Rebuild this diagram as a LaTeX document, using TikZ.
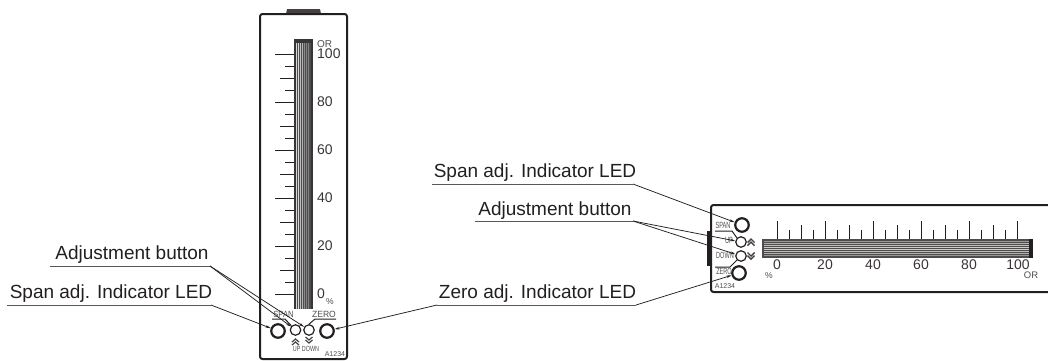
\documentclass[tikz,border=0pt]{standalone}
\usepackage{fontspec}
\usepackage{graphicx}
\setmainfont{Liberation Sans}
\usetikzlibrary{arrows.meta}
\definecolor{ink}{HTML}{231F20}
\newcommand{\cond}[2][.7]{\scalebox{#1}[1]{#2}}
\tikzset{
  frame/.style={draw=ink,line width=2pt,rounded corners=2.5pt},
  led/.style={circle,draw=ink,line width=2.2pt,minimum size=13.5pt,inner sep=0pt},
  btn/.style={circle,draw=ink,line width=1.2pt,minimum size=10.5pt,inner sep=0pt},
  callout/.style={font=\fontsize{19}{19}\selectfont,text=ink,anchor=base,inner sep=0pt},
  scalenum/.style={font=\fontsize{14}{14}\selectfont,text=ink!90,inner sep=0pt},
  tiny/.style={font=\fontsize{7.5}{7.5}\selectfont,text=ink!80,inner sep=0pt},
  panel/.style={font=\fontsize{9}{9}\selectfont,text=ink!80,inner sep=0pt},
  leader/.style={draw=ink,line width=.75pt,-{Stealth[length=5pt,width=2.6pt]}},
  rule/.style={draw=ink!75,line width=1pt},
  wire/.style={draw=ink,line width=1pt},
  tick/.style={draw=ink,line width=1pt},
  chev/.style={draw=ink!85,line width=1.2pt}
}
\begin{document}
\begin{tikzpicture}[x=1pt,y=-1pt]
\useasboundingbox (0,0) rectangle (1048,360);
% ---- vertical unit
\fill[ink!85] (286,14) -- (287,9) -- (320,9) -- (321,14) -- cycle;
\draw[frame] (260,359) -- (260,14) -- (347,14) -- (347,359) -- cycle;
\fill[ink!80] (294,39) rectangle (313,309);
\fill[ink!90] (294,39) rectangle (313,43);
\fill[ink!90] (294,39) rectangle (296,309);
\fill[ink!90] (311,39) rectangle (313,309);
\foreach \x/\c in {296/15,298/15,300/25,302/30,304/45,306/50,308/50}
  \fill[black!\c!white] (\x,43) rectangle (\x+1.1,309);
\foreach \yy/\l in {54/275,66/285,78/280,90/285,102/275,114/285,126/280,138/285,150/275,162/285,174/280,186/285,198/275,210/285,222/280,234/285,246/275,258/285,270/280,282/285,294/275}
  \draw[tick] (\l,\yy+.5) -- (294,\yy+.5);
\node[tiny,font=\fontsize{10}{10}\selectfont,anchor=west] (vor) at (317,44) {OR};
\foreach \yy/\n in {54/100,102/80,150/60,198/40,246/20,294/0}
  \node[scalenum,anchor=west] (v\n) at (317,\yy) {\n};
\node[tiny,font=\fontsize{8.5}{8.5}\selectfont] (vpct) at (330,302) {\%};
\node[panel] (vspan) at (283.5,314) {\cond[.85]{SPAN}};
\node[panel] (vzero) at (324,314) {\cond[.95]{ZERO}};
\node[led] (vledS) at (278,331) {};
\node[btn] (vup) at (295.5,330) {};
\node[btn] (vdown) at (309,330) {};
\node[led] (vledZ) at (327,331) {};
\foreach \cx/\a in {295.5/339,295.5/342}
  \draw[chev] (\cx-3.5,\a+3) -- (\cx,\a) -- (\cx+3.5,\a+3);
\foreach \cx/\a in {309/337,309/340}
  \draw[chev] (\cx-3.5,\a) -- (\cx,\a+3) -- (\cx+3.5,\a);
\node[tiny] (vupdown) at (306,349) {\cond[.72]{UP DOWN}};
\node[tiny,font=\fontsize{7}{7}\selectfont] (vid) at (335,354) {A1234};
\coordinate (vs1) at (272,319); \coordinate (vs2) at (285,319);
\coordinate (vz1) at (336,319); \coordinate (vz2) at (315,319);
\draw[wire] (vs1) -- (vs2) -- (vup.north west);
\draw[wire] (vz1) -- (vz2) -- (vdown.north);
% ---- horizontal unit
\fill[ink] (707,231) rectangle (712,266);
\draw[frame] (1049,205) -- (711,205) -- (711,292) -- (1049,292);
\fill[ink!80] (762,239) rectangle (1033,258);
\fill[ink] (1029,239) rectangle (1033,258);
\foreach \yy/\c in {241/40,243/30,245/25,247/20,249/20,251/25,253/30,255/40}
  \fill[black!\c!white] (764,\yy) rectangle (1029,\yy+1);
\foreach \x/\t in {777/221,789/230,801/225,813/230,825/221,837/230,849/225,861/230,873/221,885/230,897/225,909/230,921/221,933/230,945/225,957/230,969/221,981/230,993/225,1005/230,1017/221}
  \draw[tick] (\x+.5,\t) -- (\x+.5,239);
\foreach \x/\n in {777/0,825/20,873/40,921/60,969/80,1018/100}
  \node[scalenum] (h\n) at (\x,264.5) {\n};
\node[tiny,font=\fontsize{8.5}{8.5}\selectfont] (hpct) at (769,276) {\%};
\node[tiny,font=\fontsize{9.5}{9.5}\selectfont] (hor) at (1031,275.5) {OR};
\node[panel] (hspan) at (723,225) {\cond[.62]{SPAN}};
\node[panel] (hup) at (729,240.5) {\cond[.62]{UP}};
\node[panel] (hdown) at (725,255) {\cond[.62]{DOWN}};
\node[panel] (hzero) at (724,271) {\cond[.62]{ZERO}};
\node[tiny,font=\fontsize{7}{7}\selectfont] (hid) at (725,286) {A1234};
\node[led] (hledS) at (742,225) {};
\node[btn] (hbup) at (741,242) {};
\node[btn] (hbdown) at (741,256) {};
\node[led] (hledZ) at (739,273) {};
\foreach \a in {242,245.2}
  \draw[chev,line width=1.4pt] (747.5,\a+.5) -- (751,\a-3) -- (754.5,\a+.5);
\foreach \a in {252.5,255.7}
  \draw[chev,line width=1.4pt] (747.5,\a) -- (751,\a+3.5) -- (754.5,\a);
\coordinate (hw1) at (715,231); \coordinate (hw2) at (732,231);
\coordinate (hw3) at (715,267); \coordinate (hw4) at (730,267);
\draw[wire] (hw1) -- (hw2) -- (hbup.north west);
\draw[wire] (hw3) -- (hw4) -- (hbdown.south west);
% ---- callouts, left
\node[callout] (adjL) at (132,259) {Adjustment button};
\node[callout] (spanL) at (111,298) {Span adj. Indicator LED};
\coordinate (adjLa) at (50,266); \coordinate (adjLb) at (210,266);
\coordinate (spanLa) at (7,305); \coordinate (spanLb) at (211,305);
\draw[rule] (adjLa) -- (adjLb);
\draw[rule] (spanLa) -- (spanLb);
\draw[leader] (adjLb) -- (vup);
\draw[leader] (adjLb) -- (vdown);
\draw[leader] (spanLb) -- (vledS);
% ---- callouts, centre
\node[callout] (zeroC) at (537.5,298) {Zero adj. Indicator LED};
\coordinate (zeroCa) at (437,305); \coordinate (zeroCb) at (636,305);
\draw[rule] (zeroCa) -- (zeroCb);
\draw[leader] (zeroCa) -- (vledZ);
\draw[leader] (zeroCb) -- (hledZ);
% ---- callouts, right
\node[callout] (spanR) at (535,177) {Span adj. Indicator LED};
\node[callout] (adjR) at (555,215) {Adjustment button};
\coordinate (spanRa) at (432,184); \coordinate (spanRb) at (633,184);
\coordinate (adjRa) at (475,221); \coordinate (adjRb) at (633,221);
\draw[rule] (spanRa) -- (spanRb);
\draw[rule] (adjRa) -- (adjRb);
\draw[leader] (spanRb) -- (hledS);
\draw[leader] (adjRb) -- (hbup);
\draw[leader] (adjRb) -- (hbdown);
\end{tikzpicture}
\end{document}
